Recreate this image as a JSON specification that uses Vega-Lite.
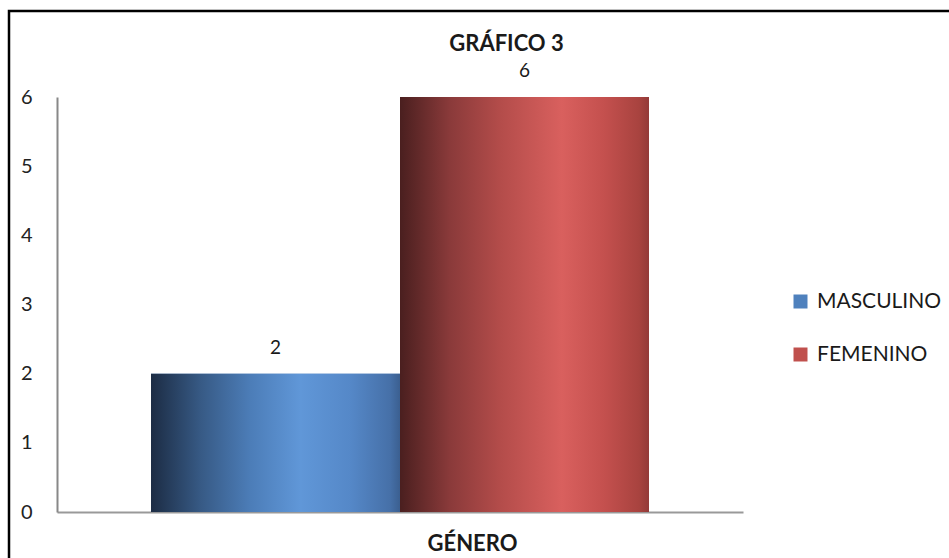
{
  "$schema": "https://vega.github.io/schema/vega-lite/v6.json",
  "autosize": "none",
  "width": 951,
  "height": 559,
  "padding": {"left": 9, "top": 11, "right": 0, "bottom": 0},
  "background": "white",
  "config": {
    "view": {"stroke": "black", "strokeWidth": 2.5},
    "font": "Lato"
  },
  "title": {
    "text": "GRÁFICO 3",
    "orient": "top",
    "anchor": "middle",
    "frame": "group",
    "offset": -55,
    "baseline": "middle",
    "dx": 22,
    "font": "Lato",
    "fontSize": 22,
    "fontWeight": "bold",
    "color": "#1a1a1a"
  },
  "data": {
    "values": [
      {"genero": "MASCULINO", "cantidad": 2},
      {"genero": "FEMENINO", "cantidad": 6}
    ]
  },
  "encoding": {
    "x": {
      "field": "genero",
      "type": "nominal",
      "sort": ["MASCULINO", "FEMENINO"],
      "scale": {"range": [48, 734], "paddingInner": 0, "paddingOuter": 0.3775},
      "axis": {
        "offset": -58,
        "labels": false,
        "ticks": false,
        "domainColor": "#999999",
        "domainWidth": 2,
        "title": "GÉNERO",
        "titleFont": "Lato",
        "titleFontSize": 22,
        "titleFontWeight": "bold",
        "titleColor": "#1a1a1a",
        "titleX": 463,
        "titleY": 31,
        "titleBaseline": "middle",
        "titleAlign": "center"
      }
    },
    "y": {
      "field": "cantidad",
      "type": "quantitative",
      "scale": {"domain": [0, 6], "range": [501, 86], "nice": false, "zero": true},
      "axis": {
        "offset": -48,
        "values": [0, 1, 2, 3, 4, 5, 6],
        "ticks": false,
        "grid": false,
        "labelPadding": 25,
        "labelFont": "Lato",
        "labelFontSize": 20,
        "labelColor": "#222222",
        "domainColor": "#888888",
        "domainWidth": 2,
        "title": null
      }
    }
  },
  "layer": [
    {
      "mark": {"type": "bar"},
      "encoding": {
        "color": {
          "field": "genero",
          "type": "nominal",
          "scale": {"domain": ["MASCULINO", "FEMENINO"], "range": ["#4F81BD", "#C0504D"]},
          "legend": {
            "title": null,
            "orient": "none",
            "legendX": 781,
            "legendY": 280,
            "symbolType": "square",
            "symbolSize": 196,
            "symbolStrokeWidth": 0,
            "labelFont": "Lato",
            "labelFontSize": 21,
            "labelColor": "#1a1a1a",
            "labelOffset": 6,
            "rowPadding": 31
          }
        }
      }
    },
    {
      "transform": [{"filter": "datum.genero === 'MASCULINO'"}],
      "mark": {
        "type": "bar",
        "fill": {
          "gradient": "linear",
          "x1": 0, "y1": 0, "x2": 1, "y2": 0,
          "stops": [
            {"offset": 0, "color": "#1C2C44"},
            {"offset": 0.2, "color": "#375A85"},
            {"offset": 0.4, "color": "#4C7DB8"},
            {"offset": 0.6, "color": "#6097D8"},
            {"offset": 0.8, "color": "#5588C8"},
            {"offset": 0.96, "color": "#4670A8"},
            {"offset": 1, "color": "#3B5F90"}
          ]
        }
      },
      "encoding": {}
    },
    {
      "transform": [{"filter": "datum.genero === 'FEMENINO'"}],
      "mark": {
        "type": "bar",
        "fill": {
          "gradient": "linear",
          "x1": 0, "y1": 0, "x2": 1, "y2": 0,
          "stops": [
            {"offset": 0, "color": "#4A1F1F"},
            {"offset": 0.2, "color": "#8A3A3A"},
            {"offset": 0.4, "color": "#B34C4A"},
            {"offset": 0.65, "color": "#D9605E"},
            {"offset": 0.82, "color": "#C4504E"},
            {"offset": 0.96, "color": "#A8433F"},
            {"offset": 1, "color": "#933A38"}
          ]
        }
      },
      "encoding": {}
    },
    {
      "mark": {"type": "text", "dy": -26, "baseline": "middle", "font": "Lato", "fontSize": 19, "color": "#1a1a1a"},
      "encoding": {"text": {"field": "cantidad", "type": "quantitative"}}
    }
  ]
}
